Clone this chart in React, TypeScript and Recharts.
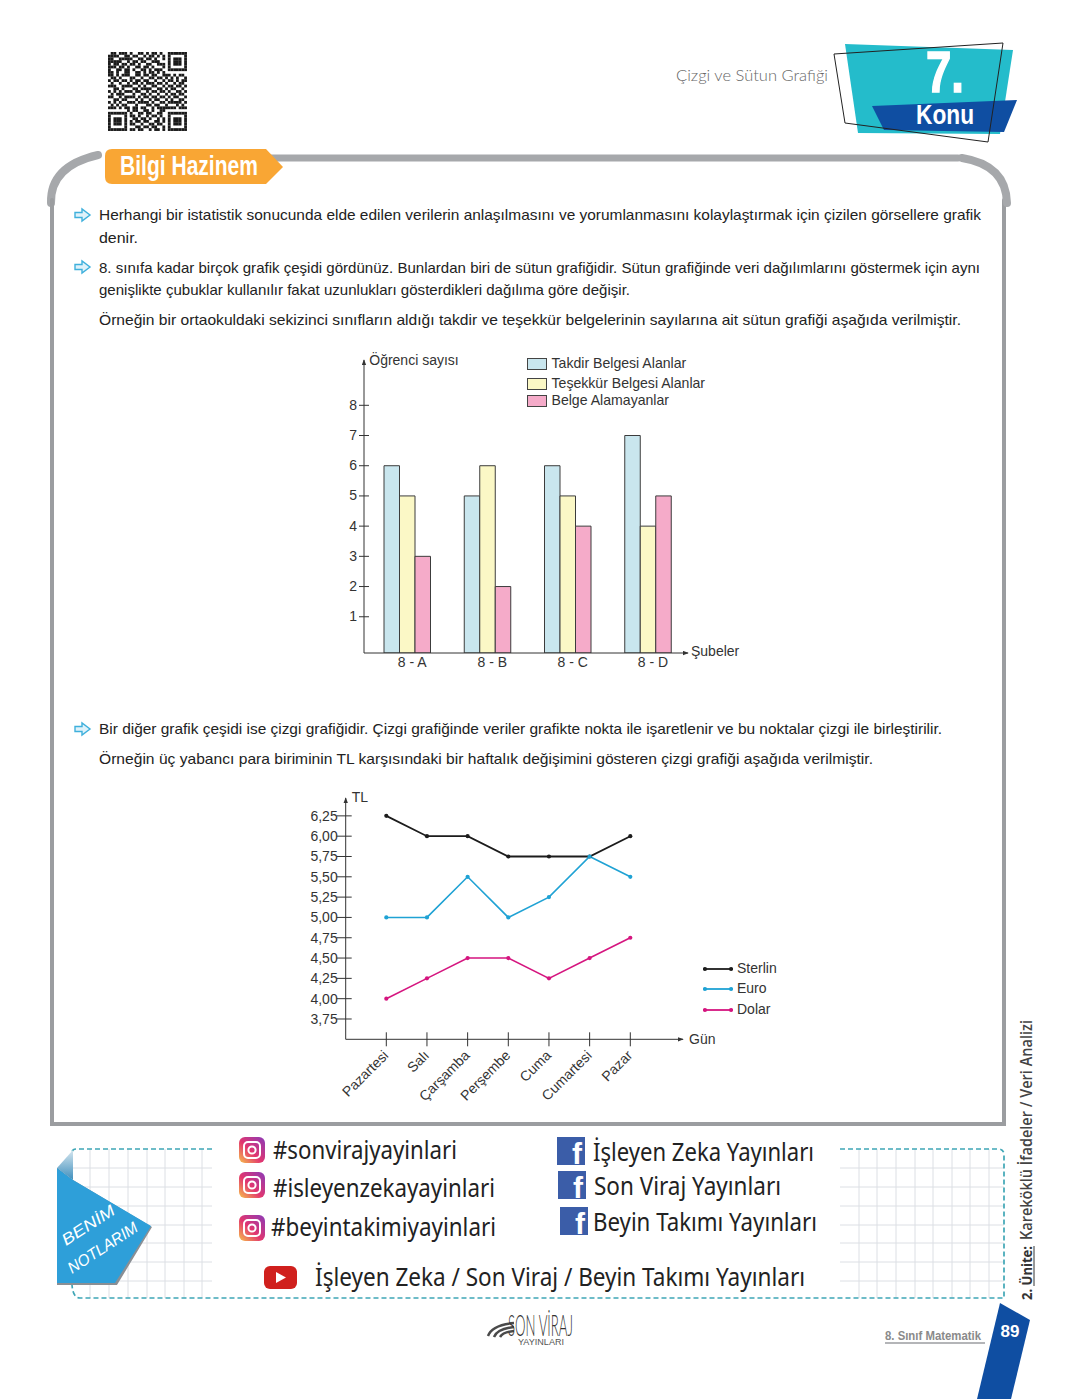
import { BarChart, Bar, LineChart, Line, XAxis, YAxis, Legend, Rectangle, Label } from "recharts";

// bar chart
const subeler = ["8 - A", "8 - B", "8 - C", "8 - D"];
const takdir = [6, 5, 6, 7];
const tesekkur = [5, 6, 5, 4];
const belgeYok = [3, 2, 4, 5];
const ogrenciTicks = [1, 2, 3, 4, 5, 6, 7, 8];

// line chart
const gunler = ["Pazartesi", "Salı", "Çarşamba", "Perşembe", "Cuma", "Cumartesi", "Pazar"];
const sterlin = [6.25, 6, 6, 5.75, 5.75, 5.75, 6];
const euro = [5, 5, 5.5, 5, 5.25, 5.75, 5.5];
const dolar = [4, 4.25, 4.5, 4.5, 4.25, 4.5, 4.75];
const tlTicks = [3.75, 4, 4.25, 4.5, 4.75, 5, 5.25, 5.5, 5.75, 6, 6.25];

const barData = subeler.map((name, i) => ({ name, takdir: takdir[i], tesekkur: tesekkur[i], belgeYok: belgeYok[i] }));
const lineData = gunler.map((name, i) => ({ name, sterlin: sterlin[i], euro: euro[i], dolar: dolar[i] }));

const paragraphs: [number, number, number, string][] = [
  [99, 220, 882, "Herhangi bir istatistik sonucunda elde edilen verilerin anlaşılmasını ve yorumlanmasını kolaylaştırmak için çizilen görsellere grafik"],
  [99, 243, 39, "denir."],
  [99, 273, 881, "8. sınıfa kadar birçok grafik çeşidi gördünüz. Bunlardan biri de sütun grafiğidir. Sütun grafiğinde veri dağılımlarını göstermek için aynı"],
  [99, 295, 531, "genişlikte çubuklar kullanılır fakat uzunlukları gösterdikleri dağılıma göre değişir."],
  [99, 325, 862, "Örneğin bir ortaokuldaki sekizinci sınıfların aldığı takdir ve teşekkür belgelerinin sayılarına ait sütun grafiği aşağıda verilmiştir."],
  [99, 734, 843, "Bir diğer grafik çeşidi ise çizgi grafiğidir. Çizgi grafiğinde veriler grafikte nokta ile işaretlenir ve bu noktalar çizgi ile birleştirilir."],
  [99, 764, 774, "Örneğin üç yabancı para biriminin TL karşısındaki bir haftalık değişimini gösteren çizgi grafiği aşağıda verilmiştir."],
];

const socials: [number, number, number, string][] = [
  [273, 1159, 184, "#sonvirajyayinlari"],
  [273, 1197, 222, "#isleyenzekayayinlari"],
  [271, 1236, 225, "#beyintakimiyayinlari"],
  [593, 1161, 221, "İşleyen Zeka Yayınları"],
  [594, 1195, 187, "Son Viraj Yayınları"],
  [593, 1231, 224, "Beyin Takımı Yayınları"],
  [315, 1286, 490, "İşleyen Zeka / Son Viraj / Beyin Takımı Yayınları"],
];

const qrRows = [
  "0110111010011010110100" + "1111111",
  "1111001101100101101010" + "1000001",
  "1100111110011011010010" + "1011101",
  "1111100101101100111000" + "1011101",
  "1011011011010011001110" + "1011101",
  "1110110100110110100010" + "1000001",
  "1001101101001101011100" + "1111111",
  "1101001100110101101010" + "0000000",
  "11010111001101101100111010110",
  "01101000110010011011010101001",
  "10110110101101100100101101011",
  "01001001011010111011010010110",
  "11100111100101001100101101101",
  "00110100011011110011010110010",
  "10101011101100101101101001101",
  "01011100010011010010010110110",
  "11001011110101101101101011001",
  "00110110001010010110010100110",
  "10101001110111101001101111101",
  "01010110001000110110010001010",
  "11101011011011001011111110111",
  "0000000" + "101100110100110" + "0000000",
  "1111111" + "010011011001100" + "1111111",
  "1000001" + "011010010110100" + "1000001",
  "1011101" + "001101101001010" + "1011101",
  "1011101" + "010110110011010" + "1011101",
  "1011101" + "011001001101100" + "1011101",
  "1000001" + "000110110110010" + "1000001",
  "1111111" + "011011001011010" + "1111111",
];

const gridX = [90, 109, 128, 147, 165, 184, 202];
const gridXRight = [859, 877, 896, 915, 933, 952, 970, 989];
const gridY = [1168, 1187, 1206, 1225, 1243, 1262, 1281];

const AXIS = "#333";
const SANS = "'Liberation Sans', Arial, sans-serif";

const Fit = ({ x, y, w, size, children, ...rest }: any) => (
  <text x={x} y={y} fontSize={size} textLength={w} lengthAdjust="spacingAndGlyphs" {...rest}>{children}</text>
);

const Insta = ({ x, y }: { x: number; y: number }) => (
  <g transform={`translate(${x} ${y})`}>
    <rect x={-13} y={-13} width={26} height={26} rx={6} fill="url(#insta)" />
    <rect x={-8} y={-8} width={16} height={16} rx={4} fill="none" stroke="#fff" strokeWidth={2} />
    <circle r={3.6} fill="none" stroke="#fff" strokeWidth={2} />
  </g>
);

const Face = ({ x, y }: { x: number; y: number }) => (
  <g transform={`translate(${x} ${y})`}>
    <rect x={-14} y={-14} width={28} height={28} fill="#3b5da8" />
    <text x={1} y={13} fontSize={30} fontWeight="bold" fill="#fff" fontFamily={SANS}>f</text>
  </g>
);

const Arrow = ({ y }: { y: number }) => (
  <path d={`M75 ${y - 2.5} H82 V${y - 6} L90 ${y} L82 ${y + 6} V${y + 2.5} H75 Z`} fill="#dff2fa" stroke="#3fb0dc" strokeWidth={1.4} />
);

const Page = () => (
  <svg width={1080} height={1399} style={{ position: "absolute", left: 0, top: 0 }} fontFamily={SANS}>
    <defs>
      <linearGradient id="insta" x1="0" y1="1" x2="1" y2="0">
        <stop offset="0" stopColor="#f7c14a" />
        <stop offset="0.45" stopColor="#e2366f" />
        <stop offset="1" stopColor="#8a3ab9" />
      </linearGradient>
      <linearGradient id="fold" x1="0" y1="0" x2="0" y2="1">
        <stop offset="0" stopColor="#d5e6ef" />
        <stop offset="1" stopColor="#3f8fbd" />
      </linearGradient>
      <marker id="arrowHead" viewBox="0 0 8 6" refX="7" refY="3" markerWidth="6" markerHeight="5" markerUnits="userSpaceOnUse" orient="auto-start-reverse">
        <path d="M0 0 L8 3 L0 6 Z" fill={AXIS} />
      </marker>
    </defs>

    {/* qr */}
    {qrRows.map((row, r) => row.split("").map((c, k) => c === "1" && (
      <rect key={`${r}-${k}`} x={108 + k * 2.72} y={52 + r * 2.72} width={2.8} height={2.8} fill="#1a1a1a" />
    )))}

    {/* unit header */}
    <Fit x={676} y={81} w={152} size={16} fill="#666" style={{ fontFamily: "Lato", fontWeight: 300 }}>Çizgi ve Sütun Grafiği</Fit>
    <polygon points="845,44 1013,50 1000,134 858,133" fill="#24bccb" />
    <polygon points="872,106 1017,100 1004,132 884,130" fill="#0f4ea2" />
    <polygon points="834,54 1003,43 988,142 845,123" fill="none" stroke="#222" strokeWidth={1} />
    <Fit x={926} y={92} w={38} size={58} fontWeight="bold" fill="#fff" stroke="#fff" strokeWidth={1.5}>7.</Fit>
    <Fit x={916} y={124} w={58} size={27} fontWeight="bold" fill="#fff">Konu</Fit>

    {/* frame */}
    <g fill="none" stroke="#a6a8ab" strokeLinecap="round">
      <path d="M51 203 Q50 166 98 155" strokeWidth={8} />
      <path d="M52 200 V1124 H1004 V200" strokeWidth={4} stroke="#9b9da0" />
      <path d="M270 158 H958" strokeWidth={7} />
      <path d="M962 158 Q1006 165 1007 203" strokeWidth={8} />
    </g>
    <path d="M112 149 H266 L283 167 L266 184 H112 Q105 184 105 177 V156 Q105 149 112 149 Z" fill="#f9a634" />
    <Fit x={120} y={175} w={138} size={27} fontWeight="bold" fill="#fff">Bilgi Hazinem</Fit>

    {/* body text */}
    <Arrow y={215} />
    <Arrow y={267} />
    <Arrow y={729} />
    {paragraphs.map(([x, y, w, t]) => (
      <Fit key={y} x={x} y={y} w={w} size={14.6} fill="#222">{t}</Fit>
    ))}

    {/* notes */}
    <g stroke="#dcdfe4" strokeWidth={1}>
      {gridX.map((x) => <line key={x} x1={x} x2={x} y1={1149} y2={1298} />)}
      {gridXRight.map((x) => <line key={x} x1={x} x2={x} y1={1149} y2={1298} />)}
      {gridY.map((y) => <line key={y} x1={72} x2={212} y1={y} y2={y} />)}
      {gridY.map((y) => <line key={`r${y}`} x1={840} x2={1004} y1={y} y2={y} />)}
    </g>
    <path d="M212 1149 H76 Q72 1149 72 1153 M840 1149 H998 Q1004 1149 1004 1155 V1298 H80 Q73 1298 72 1285" fill="none" stroke="#3fa6b6" strokeWidth={1.7} strokeDasharray="5 3" />
    <polygon points="73,1150 57,1168 73,1180" fill="url(#fold)" />
    <polygon points="57,1168 73,1180 152,1227 117,1285 57,1285" fill="#8a8f94" />
    <polygon points="57,1168 73,1180 151,1226 115,1283 57,1283" fill="#2e9fd9" />
    <g fill="#fff" fontStyle="italic">
      <g transform="translate(66 1246) rotate(-33)">
        <Fit x={0} y={0} w={60} size={16}>BENİM</Fit>
      </g>
      <g transform="translate(72 1274) rotate(-33)">
        <Fit x={0} y={0} w={80} size={16}>NOTLARIM</Fit>
      </g>
    </g>

    <Insta x={252} y={1150} />
    <Insta x={252} y={1185} />
    <Insta x={252} y={1228} />
    <Face x={571} y={1151} />
    <Face x={572} y={1185} />
    <Face x={574} y={1221} />
    <rect x={264} y={1266} width={33} height={23} rx={6} fill="#d0201d" />
    <polygon points="276,1272 276,1283 286,1277.5" fill="#fff" />
    {socials.map(([x, y, w, t]) => (
      <Fit key={t} x={x} y={y} w={w} size={26} fill="#222" style={{ fontFamily: "'Noto Sans'" }}>{t}</Fit>
    ))}

    {/* logo */}
    <g fill="none" stroke="#4a4a4a">
      <path d="M488 1336 Q492 1325 514 1323" strokeWidth={2.5} />
      <path d="M494 1337 Q497 1329 514 1327" strokeWidth={2.5} />
      <path d="M500 1337 Q503 1332 514 1331" strokeWidth={2.5} />
    </g>
    <Fit x={508} y={1336} w={65} size={29} fill="#333" style={{ fontFamily: "Lato", fontWeight: 300 }}>SON VİRAJ</Fit>
    <Fit x={518} y={1345} w={46} size={9.5} fill="#555">YAYINLARI</Fit>

    {/* footer */}
    <Fit x={885} y={1340} w={96} size={13} fontWeight="bold" fill="#8a8a8a">8. Sınıf Matematik</Fit>
    <line x1={885} x2={985} y1={1343} y2={1343} stroke="#9b9da0" strokeWidth={1.5} />
    <polygon points="1000,1303 1030,1320 1011,1399 977,1399" fill="#0f4ea2" />
    <text x={1010} y={1337} textAnchor="middle" fontSize={17} fontWeight="bold" fill="#fff">89</text>
    <g transform="translate(1032 1300) rotate(-90)" style={{ fontFamily: "'Open Sans'" }}>
      <Fit x={0} y={0} w={54} size={14} fontWeight="bold" fill="#333">2. Ünite:</Fit>
      <line x1={14} x2={54} y1={2} y2={2} stroke="#333" strokeWidth={1} />
      <Fit x={60} y={0} w={220} size={15.5} fontWeight={600} fill="#444">Kareköklü İfadeler / Veri Analizi</Fit>
    </g>
  </svg>
);

// ticks are drawn across the axis line, so they get their own small component
const CountTick = ({ x, y, payload }: any) => (
  <g>
    <line x1={x + 2} x2={x + 12} y1={y} y2={y} stroke={AXIS} />
    <text x={x} y={y + 4.5} textAnchor="end" fontSize={14} fill="#333" fontFamily={SANS}>{payload.value}</text>
  </g>
);

const TlTick = ({ x, y, payload }: any) => (
  <g>
    <line x1={x - 1} x2={x + 14} y1={y} y2={y} stroke={AXIS} />
    <text x={x} y={y + 5} textAnchor="end" fontSize={14} fill="#333" fontFamily={SANS}>{payload.value.toFixed(2).replace(".", ",")}</text>
  </g>
);

const DayTick = ({ x, y, payload }: any) => (
  <g>
    <line x1={x} x2={x} y1={y - 15} y2={y - 1} stroke={AXIS} />
    <text x={x + 3} y={y + 9} textAnchor="end" fontSize={14} fill="#333" fontFamily={SANS} transform={`rotate(-45 ${x + 3} ${y + 9})`}>{payload.value}</text>
  </g>
);

const GroundedBar = (props: any) => <Rectangle {...props} height={props.height + 6} />;

const barRows = [1, 20.5, 38];
const BarKey = ({ payload }: any) => (
  <div style={{ position: "relative", width: 190, height: 56, fontFamily: SANS, fontSize: 14.1, color: "#333" }}>
    {(payload || []).map((p: any, i: number) => (
      <div key={p.value} style={{ position: "absolute", left: 0, top: barRows[i], whiteSpace: "nowrap" }}>
        <span style={{ position: "absolute", left: 0, top: 2, width: 18, height: 10, background: p.color, border: "1px solid #444" }} />
        <span style={{ position: "absolute", left: 24.5, top: -1 }}>{p.value}</span>
      </div>
    ))}
  </div>
);

const LineKey = ({ payload }: any) => (
  <div style={{ position: "relative", width: 80, height: 60, fontFamily: SANS, fontSize: 14, color: "#333" }}>
    {(payload || []).map((p: any, i: number) => (
      <div key={p.value} style={{ position: "absolute", left: 0, top: i * 20.3, whiteSpace: "nowrap" }}>
        <svg width={30} height={8} style={{ position: "absolute", left: 0, top: 5 }}>
          <line x1={2} x2={28} y1={4} y2={4} stroke={p.color} strokeWidth={1.8} />
          <circle cx={2} cy={4} r={2.1} fill={p.color} />
          <circle cx={28} cy={4} r={2.1} fill={p.color} />
        </svg>
        <span style={{ position: "absolute", left: 34, top: 0 }}>{p.value}</span>
      </div>
    ))}
  </div>
);

const BelgeChart = () => (
  <div style={{ position: "absolute", left: 300, top: 340 }}>
    <BarChart width={460} height={340} data={barData} margin={{ top: 20, right: 72, bottom: 0, left: 0 }} barSize={15.5} barGap={0}>
      <XAxis dataKey="name" height={27} padding={{ left: 3, right: 0 }} tickLine={false} interval={0}
        axisLine={{ stroke: AXIS, markerEnd: "url(#arrowHead)" }}
        tick={{ fontSize: 14, fill: "#333", fontFamily: SANS, dx: 5, dy: -2 }} tickMargin={0}>
        <Label value="Şubeler" position="right" offset={3} dy={-15} fontSize={14} fill="#333" fontFamily={SANS} />
      </XAxis>
      <YAxis width={64} type="number" domain={[-0.2, 9.5]} ticks={ogrenciTicks} interval={0} allowDataOverflow tickLine={false} tickSize={5} tickMargin={2}
        axisLine={{ stroke: AXIS, markerStart: "url(#arrowHead)" }} tick={CountTick}>
        <Label value="Öğrenci sayısı" position="top" offset={-5} dx={82} fontSize={14} fill="#333" fontFamily={SANS} />
      </YAxis>
      <Legend layout="vertical" align="center" verticalAlign="middle" itemSorter={null} content={BarKey} wrapperStyle={{ left: 227, top: 15, width: 190 }} />
      <Bar dataKey="takdir" name="Takdir Belgesi Alanlar" fill="#c9e6ee" stroke="#3c3c3c" shape={GroundedBar} isAnimationActive={false} />
      <Bar dataKey="tesekkur" name="Teşekkür Belgesi Alanlar" fill="#fbf8c6" stroke="#3c3c3c" shape={GroundedBar} isAnimationActive={false} />
      <Bar dataKey="belgeYok" name="Belge Alamayanlar" fill="#f5abc9" stroke="#3c3c3c" shape={GroundedBar} isAnimationActive={false} />
    </BarChart>
  </div>
);

const KurChart = () => (
  <div style={{ position: "absolute", left: 290, top: 780 }}>
    <LineChart width={500} height={330} data={lineData} margin={{ top: 18, right: 107, bottom: 0, left: 0 }}>
      <XAxis dataKey="name" height={70.7} padding={{ left: 40.6, right: 52.7 }} tickLine={false} interval={0} tickSize={6} tickMargin={2}
        axisLine={{ stroke: AXIS, markerEnd: "url(#arrowHead)" }} tick={DayTick}>
        <Label value="Gün" position="right" offset={6} dy={-36} fontSize={14} fill="#333" fontFamily={SANS} />
      </XAxis>
      <YAxis width={55.7} type="number" domain={[3.5, 6.47]} ticks={tlTicks} interval={0} allowDataOverflow tickLine={false} tickSize={6} tickMargin={2}
        axisLine={{ stroke: AXIS, markerStart: "url(#arrowHead)" }} tick={TlTick}>
        <Label value="TL" position="top" offset={-4} dx={42} fontSize={14} fill="#333" fontFamily={SANS} />
      </YAxis>
      <Legend layout="vertical" align="center" verticalAlign="middle" itemSorter={null} content={LineKey} wrapperStyle={{ left: 413, top: 180, width: 80 }} />
      <Line dataKey="sterlin" name="Sterlin" stroke="#1c1c1c" strokeWidth={1.8} dot={{ r: 2.1, fill: "#1c1c1c", strokeWidth: 0 }} isAnimationActive={false} />
      <Line dataKey="euro" name="Euro" stroke="#1fa2d4" strokeWidth={1.6} dot={{ r: 2.1, fill: "#1fa2d4", strokeWidth: 0 }} isAnimationActive={false} />
      <Line dataKey="dolar" name="Dolar" stroke="#d5157f" strokeWidth={1.6} dot={{ r: 2.1, fill: "#d5157f", strokeWidth: 0 }} isAnimationActive={false} />
    </LineChart>
  </div>
);

export default function App() {
  return (
    <div style={{ position: "absolute", left: 0, top: 0, width: 1080, height: 1399, background: "#fff", overflow: "hidden" }}>
      <Page />
      <BelgeChart />
      <KurChart />
    </div>
  );
}
